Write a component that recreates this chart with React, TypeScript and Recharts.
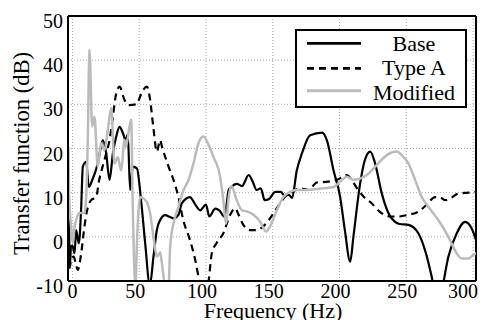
import React from 'react';
import { LineChart, Line, XAxis, YAxis, CartesianGrid, ReferenceLine, Legend, Label } from 'recharts';

const FONT = "'Liberation Serif', 'DejaVu Serif', serif";
const textStyle = { fontFamily: FONT };

const xTicks = [0, 50, 100, 150, 200, 250, 300];
const yTicks = [-10, 0, 10, 20, 30, 40, 50];
const seriesNames = ['Base', 'Type A', 'Modified'];

// [frequency Hz, transfer function dB]
const baseCurve: [number, number][] = [
  [-3, 4.5], [-2.5, 2], [-2, -7], [-1, -2.2], [0, -2], [1.6, -3.7], [2.8, 1.5], [4.8, -1.5],
  [6.6, 6.8], [7.8, 15.9], [10.3, 17], [12.3, 11.3], [14.8, 12.8], [19, 16.6], [22.8, 21.9],
  [25.3, 18.9], [27.8, 12.9], [30.3, 18.9], [32.8, 22.7], [35.3, 24.9], [37.8, 23.5], [39.8, 21.9],
  [41.5, 23.2], [43.2, 10.6], [45.2, 15.9], [48.3, 15.5], [51.5, 8], [54.5, -1.5], [58, -11],
  [60.7, -4.5], [63.2, 1.5], [65.7, 3.8], [69.5, 4.9], [73, 4.5], [75.7, 4.2], [79.4, 5], [82, 7.6],
  [88, 9], [92, 7.3], [95.7, 6], [100, 7.3], [102.5, 4.6], [107, 6.4], [110, 6], [114, 4.5],
  [117, 10.6], [119, 11.3], [123, 12], [127, 11.5], [132, 14], [135, 12.5], [138, 10.6], [141, 11],
  [144, 8.3], [147, 8.5], [152, 10.2], [156, 10.2], [159, 9.3], [162, 9.5], [164.5, 8.8], [168, 15],
  [172, 19], [178, 23], [187, 23.6], [190.5, 21.9], [195.5, 15.1], [200.5, 9], [204, 1.5], [208, -5.6],
  [210.4, 0], [215.4, 12], [219, 17.4], [223, 19.3], [226.6, 16.7], [231.6, 9.9], [236.6, 5.4],
  [241.6, 3.4], [245, 2.9], [251.6, 2.7], [259, 0.8], [264, -3], [269, -9], [273, -15], [276.6, -12],
  [281.5, -4.5], [287.8, 0.8], [294, 3.4], [299, 1.9], [302.5, -1],
];

const typeACurve: [number, number][] = [
  [-3, -4], [-2, -7], [-1, -5], [1, -4.5], [2.5, -6], [4, -7.5], [6.6, -3.7], [9, 2.3], [11, 6],
  [14, 8.3], [17.8, 9], [20, 12.8], [22.6, 15.9], [25, 18.5], [27.8, 21.9], [30.3, 27.2],
  [32.8, 32.5], [35.3, 34], [39, 31], [42.7, 29.8], [47.7, 30], [52.8, 33.2], [55.8, 34], [58.2, 31],
  [60.7, 24.5], [63.2, 19.3], [65.7, 21.9], [67, 20.5], [72, 15.9], [75.7, 12.9], [79.4, 9], [83, 3.8],
  [88, -0.7], [92, -5.3], [95, -10], [98.5, -14], [102, -10], [104.4, -3.7], [108, -1.4], [113, 0.8],
  [118, 4.9], [122, 6.5], [124, 5.3], [128, 2.7], [133, 1.5], [138, 1.5], [144, 2.7], [150.5, 5.3],
  [155.5, 7.6], [160.5, 9.5], [165, 10.2], [170.5, 11], [176.7, 10.6], [183, 12.3], [191.7, 12.5],
  [198, 12.9], [205.5, 14], [209, 12.9], [214, 10.6], [219, 8.8], [224, 7.6], [230, 5.7], [238, 4.6],
  [244, 4.6], [251.6, 5], [259, 5.7], [265, 7.2], [271.6, 9], [275, 9], [279, 8.3], [283.5, 8.8],
  [289, 9.8], [296.5, 10], [302.5, 10.2],
];

const modifiedCurve: [number, number][] = [
  [-3, 20.4], [-2.5, 10], [-1, 2.3], [0.3, -1.4], [1.5, 2], [2.8, 3.8], [5.3, 5.4], [9, 5.4],
  [10.3, 9], [11.5, 21.9], [12.8, 42.3], [14.8, 25], [16.5, 27.2], [19, 15.9], [21.5, 21.2],
  [24, 19.6], [26.5, 24.2], [29, 29.1], [31.5, 16.6], [34, 18], [36.5, 15.1], [39, 21.9], [40, 20.4],
  [42.7, 24.9], [44, 26.5], [45.2, 6.8], [47.2, -11], [48.5, 0], [49.5, 6], [50.7, 9], [52.6, 8.8],
  [55.5, 8], [58.2, 5.3], [60.7, 0], [63.2, -4.5], [65.7, -3.5], [67, -6], [69.5, -11], [72, -11],
  [73.2, -2.2], [75.7, 3], [79.4, 6.8], [83.2, 10.6], [87, 12.9], [90.6, 16.6], [94.4, 21.2],
  [98.1, 22.7], [102, 20.8], [105.6, 18.1], [110.6, 13.6], [113, 8.3], [115, 3], [117, 9], [119, 11.5],
  [123, 8.3], [127, 6], [131, 5.7], [135.6, 5], [140.6, 3.4], [145, 1.2], [149, 3], [153, 6], [158, 9],
  [163, 10.2], [168, 10.6], [175.5, 10.6], [183, 10.8], [188, 11], [195.6, 11.3], [200.4, 12.5],
  [205.5, 13.6], [210.4, 12.9], [215.4, 13.2], [220.4, 14], [228, 16.3], [235.4, 18.5], [243, 19.3],
  [246.6, 18.5], [251.6, 16.6], [256.6, 12.9], [261.6, 9], [266.5, 6.8], [274, 3.8], [281.5, 0],
  [287.7, -3.7], [291.5, -4.9], [296.5, -4.9], [300, -4.1], [302.5, -3.7],
];

const X_MIN = -3.3;
const X_MAX = 302.2;

const toPoints = (c: [number, number][]) => c.map(([f, v]) => ({ f, v }));

const series = [
  { name: seriesNames[0], data: toPoints(baseCurve), stroke: '#000', width: 2.2, dash: undefined },
  { name: seriesNames[1], data: toPoints(typeACurve), stroke: '#000', width: 2.2, dash: '7 5' },
  { name: seriesNames[2], data: toPoints(modifiedCurve), stroke: '#bbbbbb', width: 2.5, dash: undefined },
];

const XTick = (props: any) => {
  const { x, y, payload } = props;
  // labels sit a little left of their gridline, the last one is pulled in to stay inside
  const shift = payload.value === 0 ? 0 : payload.value === 300 ? -8 : -4;
  return (
    <text x={x + shift} y={y + 17} textAnchor="middle" fontSize={20} style={textStyle} fill="#000">
      {payload.value}
    </text>
  );
};

const YTick = (props: any) => {
  const { x, y, payload } = props;
  return (
    <text x={x} y={y + 12} textAnchor="end" fontSize={20} style={textStyle} fill="#000">
      {payload.value}
    </text>
  );
};

const LegendBox = () => {
  const rows = [14.3, 39.3, 61.7];
  const baselines = [22, 45.5, 71];
  return (
    <svg width={172} height={79} style={{ display: 'block' }}>
      <rect x={1} y={1} width={170} height={77} fill="#fff" stroke="#000" strokeWidth={2} />
      {series.map((s, i) => (
        <g key={s.name}>
          <line x1={12} x2={66} y1={rows[i]} y2={rows[i]} stroke={s.stroke} strokeWidth={s.width + 0.5} strokeDasharray={s.dash} />
          <text x={119} y={baselines[i]} textAnchor="middle" fontSize={22} style={textStyle} fill="#000">
            {s.name}
          </text>
        </g>
      ))}
    </svg>
  );
};

export default function App() {
  return (
    <div style={{ position: 'absolute', left: 0, top: 0, width: 483, height: 320, background: '#fff', fontFamily: FONT }}>
      <LineChart width={483} height={320} margin={{ top: 16, right: 7, left: 0, bottom: 0 }} style={textStyle}>
        <CartesianGrid stroke="#aaaaaa" strokeDasharray="1 2" />
        <XAxis
          dataKey="f"
          type="number"
          domain={[X_MIN, X_MAX]}
          ticks={xTicks}
          allowDataOverflow
          height={39}
          tickLine={false}
          tickSize={0}
          tickMargin={0}
          axisLine={{ stroke: '#000', strokeWidth: 2 }}
          tick={<XTick />}
        >
          <Label
            content={() => (
              <text x={273} y={318} textAnchor="middle" fontSize={22} style={textStyle} fill="#000">
                Frequency (Hz)
              </text>
            )}
          />
        </XAxis>
        <YAxis
          type="number"
          domain={[-10, 50]}
          ticks={yTicks}
          allowDataOverflow
          width={68}
          tickLine={false}
          tickSize={0}
          tickMargin={5}
          axisLine={{ stroke: '#000', strokeWidth: 2 }}
          tick={<YTick />}
        >
          <Label
            content={() => (
              <text transform="translate(28.5,153.5) rotate(-90)" textAnchor="middle" fontSize={22.5} style={textStyle} fill="#000">
                Transfer function (dB)
              </text>
            )}
          />
        </YAxis>
        <ReferenceLine y={50} stroke="#000" strokeWidth={2} />
        <ReferenceLine x={X_MAX} stroke="#000" strokeWidth={2} />
        {series.map((s) => (
          <Line
            key={s.name}
            name={s.name}
            data={s.data}
            dataKey="v"
            type="monotone"
            stroke={s.stroke}
            strokeWidth={s.width}
            strokeDasharray={s.dash}
            dot={false}
            activeDot={false}
            isAnimationActive={false}
          />
        ))}
        <Legend
          layout="horizontal"
          verticalAlign="middle"
          align="center"
          wrapperStyle={{ left: 295, top: 29, width: 172, height: 79 }}
          content={() => <LegendBox />}
        />
      </LineChart>
    </div>
  );
}
